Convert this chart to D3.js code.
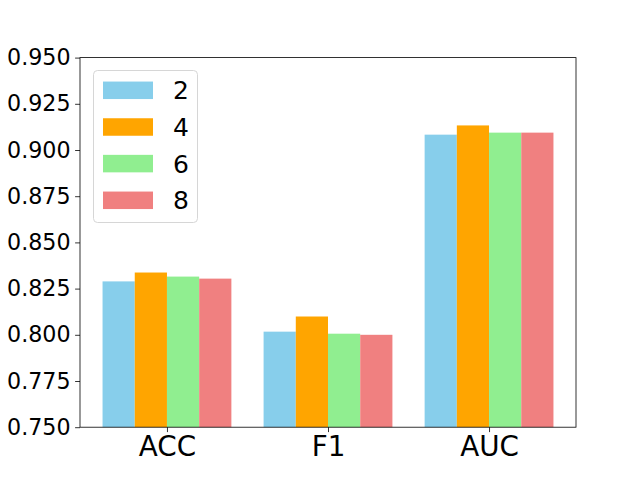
<!DOCTYPE html>
<html><head><meta charset="utf-8">
<script src="https://cdn.jsdelivr.net/npm/d3@7"></script>
<style>body{margin:0;background:#fff}svg{display:block}text{font-family:"DejaVu Sans",sans-serif}</style>
</head><body>
<script>
const categories = ["ACC", "F1", "AUC"];
const seriesNames = ["2", "4", "6", "8"];
const values2 = [0.8289, 0.8017, 0.9083];
const values4 = [0.8337, 0.8099, 0.9133];
const values6 = [0.8315, 0.8006, 0.9094];
const values8 = [0.8304, 0.8000, 0.9094];
const colors = ["#87CEEB", "#FFA500", "#90EE90", "#F08080"];
const yTicks = [0.750, 0.775, 0.800, 0.825, 0.850, 0.875, 0.900, 0.925, 0.950];
const series = [values2, values4, values6, values8];

const W = 640, H = 480;
const mLeft = 80, mRight = 576, mTop = 57.6, mBottom = 427.2;
const svg = d3.select("body").append("svg").attr("width", W).attr("height", H);

const x = d3.scaleLinear().domain([-0.54, 2.54]).range([mLeft, mRight]);
const y = d3.scaleLinear().domain([0.75, 0.95]).range([mBottom, mTop]);
const bw = 0.2;
const offsets = [-0.3, -0.1, 0.1, 0.3];

const g = svg.append("g");
series.forEach((vals, si) => {
  g.selectAll(null).data(vals).enter().append("rect")
    .attr("x", (d, i) => x(i + offsets[si] - bw / 2))
    .attr("width", (d, i) => x(i + offsets[si] + bw / 2) - x(i + offsets[si] - bw / 2))
    .attr("y", d => y(d))
    .attr("height", d => y(0.75) - y(d))
    .attr("fill", colors[si]);
});

const yAxis = d3.axisLeft(y).tickValues(yTicks).tickFormat(d3.format(".3f")).tickSize(4.9).tickPadding(4.5);
const ya = svg.append("g").attr("transform", `translate(${mLeft},0)`).call(yAxis);
ya.select(".domain").remove();
ya.selectAll("line").attr("stroke", "#000").attr("stroke-width", 0.8);
ya.selectAll("text").attr("font-size", "22.2px").attr("fill", "#000").style("font-family", "DejaVu Sans");

const xAxis = d3.axisBottom(x).tickValues([0, 1, 2]).tickFormat((d) => categories[d]).tickSize(4.9).tickPadding(4.5);
const xa = svg.append("g").attr("transform", `translate(0,${mBottom})`).call(xAxis);
xa.select(".domain").remove();
xa.selectAll("line").attr("stroke", "#000").attr("stroke-width", 0.8);
xa.selectAll("text").attr("font-size", "27.8px").attr("fill", "#000").style("font-family", "DejaVu Sans");

svg.append("rect").attr("x", mLeft).attr("y", mTop).attr("width", mRight - mLeft).attr("height", mBottom - mTop)
  .attr("fill", "none").attr("stroke", "#000").attr("stroke-width", 0.8);

const lg = svg.append("g");
lg.append("rect").attr("x", 93.5).attr("y", 70.5).attr("width", 104).attr("height", 152).attr("rx", 4)
  .attr("fill", "#fff").attr("fill-opacity", 0.8).attr("stroke", "#d6d6d6").attr("stroke-width", 1);
const rowY = [90.3, 127, 163.6, 200.3];
seriesNames.forEach((name, i) => {
  lg.append("rect").attr("x", 103).attr("y", rowY[i] - 8.75).attr("width", 50).attr("height", 17.5).attr("fill", colors[i]);
  lg.append("text").attr("x", 173).attr("y", rowY[i]).attr("dy", "0.36em").attr("font-size", "25px").attr("fill", "#000").text(name);
});
</script>
</body></html>
